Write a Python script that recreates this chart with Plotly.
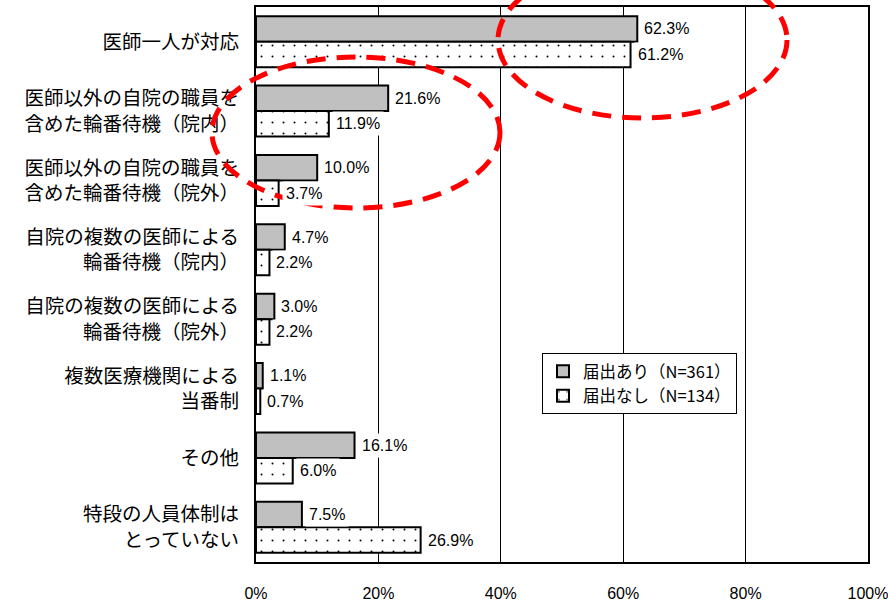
import plotly.graph_objects as go

categories = [
    "医師一人が対応",
    "医師以外の自院の職員を<br>含めた輪番待機（院内）",
    "医師以外の自院の職員を<br>含めた輪番待機（院外）",
    "自院の複数の医師による<br>輪番待機（院内）",
    "自院の複数の医師による<br>輪番待機（院外）",
    "複数医療機関による<br>当番制",
    "その他",
    "特段の人員体制は<br>とっていない",
]
series_names = ["届出あり（N=361）", "届出なし（N=134）"]
with_notice = [62.3, 21.6, 10.0, 4.7, 3.0, 1.1, 16.1, 7.5]
without_notice = [61.2, 11.9, 3.7, 2.2, 2.2, 0.7, 6.0, 26.9]
x_tick_values = [0, 20, 40, 60, 80, 100]
x_tick_labels = ["0%", "20%", "40%", "60%", "80%", "100%"]

NUM_FONT = "Liberation Sans, Arial, sans-serif"
JP_FONT = "Noto Sans CJK JP, sans-serif"

L, R, T, B = 256, 20, 7, 41
W, H = 888, 603
plot_w = W - L - R
plot_h = H - T - B

fig = go.Figure()
fig.add_trace(go.Bar(
    y=categories, x=with_notice, orientation="h", name=series_names[0],
    marker=dict(color="#c0c0c0", line=dict(color="black", width=2)),
))
fig.add_trace(go.Bar(
    y=categories, x=without_notice, orientation="h", name=series_names[1],
    marker=dict(color="white", line=dict(color="black", width=2),
                pattern=dict(shape=".", size=11, solidity=0.025,
                             fgcolor="black", bgcolor="white", fillmode="replace")),
))

bargap = 0.265
bw = (1 - bargap) / 2
annotations = []
for i, (a, b) in enumerate(zip(with_notice, without_notice)):
    for val, off in ((a, -bw / 2), (b, bw / 2)):
        annotations.append(dict(
            x=val, y=i + off, xref="x", yref="y", text=f"{val:.1f}%",
            showarrow=False, xanchor="left", yanchor="middle", xshift=3,
            bgcolor="white", borderpad=3,
            font=dict(family=NUM_FONT, size=16, color="black"),
        ))

def px_x(px):
    return (px - L) / plot_w

def px_y(py):
    return (H - B - py) / plot_h

shapes = [
    dict(type="circle", xref="paper", yref="paper",
         x0=px_x(212), x1=px_x(500), y0=px_y(208), y1=px_y(57),
         line=dict(color="#ff0000", width=5, dash="19px,11px"), layer="above"),
    dict(type="circle", xref="paper", yref="paper",
         x0=px_x(498), x1=px_x(787), y0=px_y(118), y1=px_y(-38),
         line=dict(color="#ff0000", width=5, dash="19px,11px"), layer="above"),
]

fig.update_layout(
    width=W, height=H,
    margin=dict(l=L, r=R, t=T, b=B, pad=0, autoexpand=False),
    paper_bgcolor="white", plot_bgcolor="white",
    barmode="group", bargap=bargap, bargroupgap=0,
    showlegend=True,
    legend=dict(
        x=px_x(542), y=px_y(353), xanchor="left", yanchor="top",
        bgcolor="white", bordercolor="black", borderwidth=1,
        font=dict(family=JP_FONT, size=16.5, color="black"),
        traceorder="normal", itemwidth=30,
    ),
    xaxis=dict(
        range=[0, 100], tickvals=x_tick_values, ticktext=x_tick_labels,
        showgrid=True, gridcolor="black", gridwidth=1,
        showline=True, linecolor="black", linewidth=2, mirror=True,
        ticks="", ticklabelstandoff=16, zeroline=False, automargin=False,
        ticklabeloverflow="allow",
        tickfont=dict(family=NUM_FONT, size=16, color="black"),
    ),
    yaxis=dict(
        autorange="reversed", showline=True, linecolor="black", linewidth=2,
        mirror=True, ticks="", showgrid=False, ticklabelstandoff=11,
        automargin=False,
        tickfont=dict(family=JP_FONT, size=19.5, color="black"),
    ),
    annotations=annotations,
    shapes=shapes,
)

fig.write_html("out.html", config={"displayModeBar": False},
               post_script="document.body.style.margin='0';document.body.style.overflow='hidden';")
